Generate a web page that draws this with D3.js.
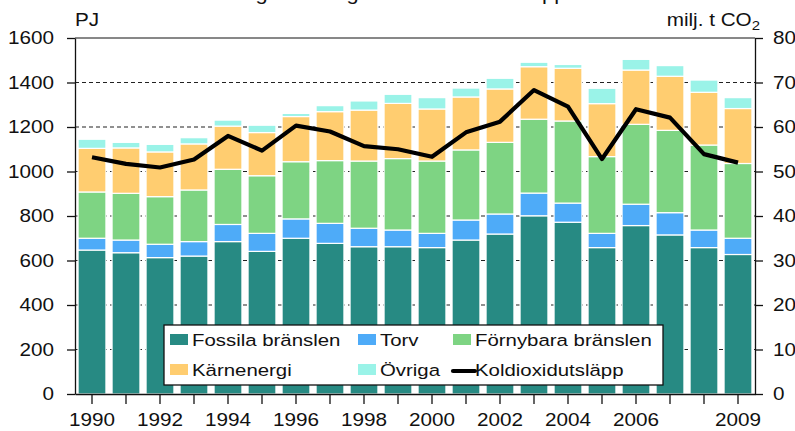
<!DOCTYPE html>
<html>
<head>
<meta charset="utf-8">
<script src="https://cdn.jsdelivr.net/npm/d3@7"></script>
<style>
  body { margin: 0; background: #fff; }
  svg text { font-family: "Liberation Sans", Arial, sans-serif; fill: #111; }
</style>
</head>
<body>
<div id="chart"></div>
<script>
// Energy use (PJ) by source and CO2 emissions (milj. t), 1990-2009
var years = d3.range(1990, 2010);
var fossila    = [647, 635, 613, 620, 685, 641, 700, 677, 662, 662, 658, 692, 719, 801, 772, 658, 757, 715, 658, 627];
var torv       = [53, 57, 60, 65, 77, 81, 87, 90, 83, 75, 64, 90, 90, 102, 86, 64, 96, 100, 79, 73];
var fornybara  = [208, 210, 214, 232, 248, 259, 257, 282, 302, 321, 325, 315, 322, 332, 369, 345, 359, 370, 382, 336];
var karnenergi = [196, 204, 201, 207, 194, 194, 203, 220, 229, 248, 234, 238, 240, 236, 237, 238, 244, 243, 237, 247];
var ovriga     = [41, 25, 34, 28, 27, 33, 14, 27, 41, 41, 51, 40, 48, 20, 17, 69, 48, 48, 55, 49];
var co2        = [53.2, 51.7, 50.9, 52.7, 58.0, 54.7, 60.3, 59.0, 55.7, 55.0, 53.3, 58.8, 61.2, 68.3, 64.6, 52.8, 64.0, 62.1, 53.9, 52.0];
var xLabels    = [1990, 1992, 1994, 1996, 1998, 2000, 2002, 2004, 2006, 2009];
var leftTicks  = [0, 200, 400, 600, 800, 1000, 1200, 1400, 1600];
var rightTicks = [0, 10, 20, 30, 40, 50, 60, 70, 80];

var seriesNames = ["Fossila bränslen", "Torv", "Förnybara bränslen", "Kärnenergi", "Övriga"];
var seriesData = [fossila, torv, fornybara, karnenergi, ovriga];
var colors = ["#278a83", "#4eabf8", "#7ed483", "#ffcd70", "#9af3e8"];

var width = 795, height = 431;
var plotL = 75, plotR = 755, plotT = 38, plotB = 394;

var svg = d3.select("#chart").append("svg")
    .attr("width", width)
    .attr("height", height);

// stretch text horizontally, the source font is wide
function stretch(sel, sx) {
  sel.each(function() {
    var t = d3.select(this);
    var x = +t.attr("x") || 0;
    t.attr("x", 0).attr("transform", "translate(" + x + ",0) scale(" + sx + ",1)");
  });
}

var x = d3.scaleBand()
    .domain(years)
    .range([plotL, plotR])
    .paddingInner(0.18)
    .paddingOuter(0.09);

var y = d3.scaleLinear().domain([0, 1600]).range([plotB, plotT]);
var y2 = d3.scaleLinear().domain([0, 80]).range([plotB, plotT]);

// title (cut at the top of the picture)
svg.append("text")
    .attr("x", 397).attr("y", 0)
    .attr("text-anchor", "middle")
    .style("font-size", "19px")
    .text("Totalförbrukning av energi och koldioxidutsläpp 1990–2009")
    .call(stretch, 1.15);

// grid
svg.append("g").selectAll("line")
    .data(leftTicks.filter(function(d) { return d > 0 && d < 1600; }))
    .enter().append("line")
    .attr("x1", plotL).attr("x2", plotR)
    .attr("y1", function(d) { return y(d); })
    .attr("y2", function(d) { return y(d); })
    .attr("stroke", "#222")
    .attr("stroke-width", 1.2)
    .attr("stroke-dasharray", "4,3");

svg.append("line")
    .attr("x1", plotL).attr("x2", plotR)
    .attr("y1", y(1600)).attr("y2", y(1600))
    .attr("stroke", "#111");

// stacked bars
var rows = years.map(function(yr, i) {
  var r = { year: yr };
  seriesNames.forEach(function(s, j) { r[s] = seriesData[j][i]; });
  return r;
});
var stacked = d3.stack().keys(seriesNames)(rows);

svg.append("g").selectAll("g")
    .data(stacked)
    .enter().append("g")
    .attr("fill", function(d, i) { return colors[i]; })
    .selectAll("rect")
    .data(function(d) { return d; })
    .enter().append("rect")
    .attr("x", function(d) { return x(d.data.year); })
    .attr("width", x.bandwidth())
    .attr("y", function(d) { return y(d[1]); })
    .attr("height", function(d) { return y(d[0]) - y(d[1]); })
    .attr("stroke", "#fff")
    .attr("stroke-width", 1.2);

// CO2 line
var line = d3.line()
    .x(function(d, i) { return x(years[i]) + x.bandwidth() / 2; })
    .y(function(d) { return y2(d); });

svg.append("path")
    .datum(co2)
    .attr("d", line)
    .attr("fill", "none")
    .attr("stroke", "#000")
    .attr("stroke-width", 4.2)
    .attr("stroke-linejoin", "round");

// axes
var gl = svg.append("g")
    .attr("transform", "translate(" + plotL + ",0)")
    .call(d3.axisLeft(y).tickValues(leftTicks).tickFormat(d3.format("d"))
      .tickSize(8).tickPadding(13).tickSizeOuter(0));
var gr = svg.append("g")
    .attr("transform", "translate(" + plotR + ",0)")
    .call(d3.axisRight(y2).tickValues(rightTicks).tickFormat(d3.format("d"))
      .tickSize(8).tickPadding(10).tickSizeOuter(0));
var gb = svg.append("g")
    .attr("transform", "translate(0," + plotB + ")")
    .call(d3.axisBottom(x).tickSize(10).tickPadding(9).tickSizeOuter(0)
      .tickFormat(function(d) { return xLabels.indexOf(d) >= 0 ? d : ""; }));

[gl, gr, gb].forEach(function(g) {
  g.select(".domain").attr("stroke", "#111").attr("stroke-width", 1.3);
  g.selectAll(".tick line").attr("stroke", "#111").attr("stroke-width", 1.3);
  g.selectAll("text")
    .style("font-size", "18px")
    .style("font-family", "Liberation Sans, Arial, sans-serif")
    .attr("fill", "#111")
    .call(stretch, 1.15);
});

// unit labels
svg.append("text")
    .attr("x", 75).attr("y", 26)
    .style("font-size", "18px")
    .text("PJ")
    .call(stretch, 1.15);

var unit = svg.append("text")
    .attr("x", 760).attr("y", 26)
    .attr("text-anchor", "end")
    .style("font-size", "18px");
unit.append("tspan").text("milj. t CO");
unit.append("tspan").attr("dy", 4).style("font-size", "13px").text("2");
unit.call(stretch, 1.15);

// legend
var lg = svg.append("g");
lg.append("rect")
    .attr("x", 164).attr("y", 325)
    .attr("width", 499).attr("height", 60)
    .attr("fill", "#fff")
    .attr("stroke", "#111")
    .attr("stroke-width", 1.3);

var legendItems = [
  { name: seriesNames[0], color: colors[0], col: 0, row: 0 },
  { name: seriesNames[1], color: colors[1], col: 1, row: 0 },
  { name: seriesNames[2], color: colors[2], col: 2, row: 0 },
  { name: seriesNames[3], color: colors[3], col: 0, row: 1 },
  { name: seriesNames[4], color: colors[4], col: 1, row: 1 },
  { name: "Koldioxidutsläpp", color: null, col: 2, row: 1 }
];
var colX = [170, 358, 453];
var rowY = [346, 376];

legendItems.forEach(function(d) {
  var cx = colX[d.col], cy = rowY[d.row];
  if (d.color) {
    lg.append("rect")
      .attr("x", cx).attr("y", cy - 12)
      .attr("width", 18).attr("height", 11)
      .attr("fill", d.color);
  } else {
    lg.append("line")
      .attr("x1", cx).attr("x2", cx + 22)
      .attr("y1", cy - 5).attr("y2", cy - 5)
      .attr("stroke", "#000").attr("stroke-width", 4.2)
      .attr("stroke-linecap", "round");
  }
  lg.append("text")
    .attr("x", cx + 22).attr("y", cy)
    .style("font-size", "17px")
    .text(d.name)
    .call(stretch, 1.2);
});
</script>
</body>
</html>
